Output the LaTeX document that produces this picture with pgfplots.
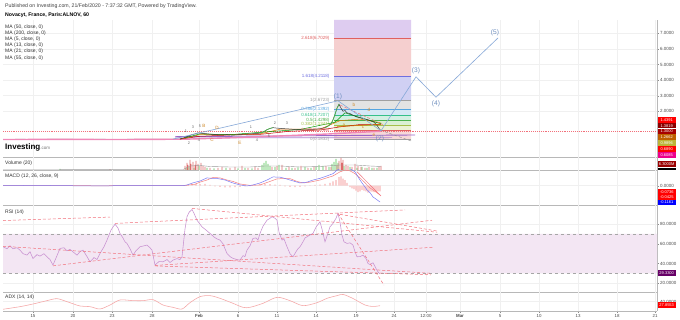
\documentclass[border=0pt]{standalone}
\usepackage{fontspec}
\setmainfont{Liberation Sans}
\usepackage{pgfplots}
\pgfplotsset{compat=1.18}
\definecolor{fibtop}{HTML}{DECCF0}
\definecolor{fibpink}{HTML}{F5CFCF}
\definecolor{fibblue}{HTML}{D0D0F3}
\definecolor{fibgray}{HTML}{E3E3E3}
\definecolor{fiblb}{HTML}{D5E8F5}
\definecolor{fibmint}{HTML}{D3F0E3}
\definecolor{fibgreen}{HTML}{DAF0D3}
\definecolor{fibyel}{HTML}{EBF2D3}
\definecolor{fibred}{HTML}{F7D8D8}
\definecolor{lA}{HTML}{E06060}
\definecolor{lB}{HTML}{6F6FE0}
\definecolor{lC}{HTML}{A0A0A0}
\definecolor{lD}{HTML}{55A5E0}
\definecolor{lE}{HTML}{35C08A}
\definecolor{lF}{HTML}{4CB04C}
\definecolor{lG}{HTML}{A5C04A}
\definecolor{ew}{HTML}{86A8D8}
\definecolor{ewtext}{HTML}{6F8FBF}
\definecolor{wlab}{HTML}{D08A2A}
\definecolor{rsicol}{HTML}{C890D0}
\definecolor{rsiband}{HTML}{F3E6F3}
\definecolor{trend}{HTML}{F2707A}
\definecolor{adxcol}{HTML}{F5A5A5}
\definecolor{macdb}{HTML}{7A7AF5}
\definecolor{macdr}{HTML}{F58080}
\definecolor{hist}{HTML}{F8B8B8}
\definecolor{vgreen}{HTML}{4CC24C}
\definecolor{vred}{HTML}{E06A6A}
\definecolor{pricecol}{HTML}{3A3A3A}
\definecolor{purp}{HTML}{9A66C8}
\definecolor{pinkma}{HTML}{F088B8}
\pgfplotsset{
  panel/.style={
    scale only axis, width=654pt, xmin=3, xmax=657,
    axis x line*=bottom, axis y line*=right,
    axis line style={draw=black!28, line width=0.9pt},
    xtick={33,73,112,152,199,238,277,316,356,394,426,460,500,539,578,617,655},
    xticklabels={}, xtick style={draw=none},
    grid=major, major grid style={draw=black!6, line width=0.4pt},
    ytick style={draw=black!45, line width=0.3pt},
    major tick length=2pt, tick align=outside,
    yticklabel style={font=\fontsize{4.5}{5}\selectfont, text=black!70, inner sep=1pt,
      /pgf/number format/fixed, /pgf/number format/fixed zerofill,
      /pgf/number format/precision=4, /pgf/number format/assume math mode=true},
    clip mode=individual,
  },
}
\newcommand{\pbox}[3]{\node[anchor=west, fill=#1, text=white, inner sep=0pt, minimum width=18pt, minimum height=5.6pt, font=\fontsize{4}{4}\selectfont] at (657.5pt,#2pt) {#3};}
\begin{document}
\begin{tikzpicture}
\useasboundingbox[fill=white] (0pt,0pt) rectangle (680pt,320pt);
% ---------------- main price panel ----------------
\begin{axis}[panel, at={(3pt,163pt)}, anchor=south west, height=137pt,
  ymin=-0.93, ymax=7.85, ytick={2,3,4,5,6,7}]
\addplot[draw=none, fill=fibtop] coordinates {(334,6.7029)(411,6.7029)(411,7.85)(334,7.85)(334,6.7029)};
\addplot[draw=none, fill=fibpink] coordinates {(334,4.2118)(411,4.2118)(411,6.7029)(334,6.7029)(334,4.2118)};
\addplot[draw=none, fill=fibblue] coordinates {(334,2.6723)(411,2.6723)(411,4.2118)(334,4.2118)(334,2.6723)};
\addplot[draw=none, fill=fibgray] coordinates {(334,2.1392)(411,2.1392)(411,2.6723)(334,2.6723)(334,2.1392)};
\addplot[draw=none, fill=fiblb] coordinates {(334,1.7207)(411,1.7207)(411,2.1392)(334,2.1392)(334,1.7207)};
\addplot[draw=none, fill=fibmint] coordinates {(334,1.4298)(411,1.4298)(411,1.7207)(334,1.7207)(334,1.4298)};
\addplot[draw=none, fill=fibgreen] coordinates {(334,1.1341)(411,1.1341)(411,1.4298)(334,1.4298)(334,1.1341)};
\addplot[draw=none, fill=fibyel] coordinates {(334,0.7706)(411,0.7706)(411,1.1341)(334,1.1341)(334,0.7706)};
\addplot[draw=none, fill=fibred] coordinates {(334,0.1832)(411,0.1832)(411,0.7706)(334,0.7706)(334,0.1832)};
\addplot[lA, line width=0.6pt] coordinates {(334,6.7029)(411,6.7029)};
\addplot[lB, line width=0.6pt] coordinates {(334,4.2118)(411,4.2118)};
\addplot[lC, line width=0.6pt] coordinates {(334,2.6723)(411,2.6723)};
\addplot[lD, line width=0.5pt] coordinates {(334,2.1392)(411,2.1392)};
\addplot[lE, line width=0.5pt] coordinates {(334,1.7207)(411,1.7207)};
\addplot[lF, line width=0.5pt] coordinates {(334,1.4298)(411,1.4298)};
\addplot[lG, line width=0.5pt] coordinates {(334,1.1341)(411,1.1341)};
\addplot[lA, line width=0.5pt] coordinates {(334,0.7706)(411,0.7706)};
\addplot[lC, line width=0.5pt] coordinates {(334,0.1832)(411,0.1832)};
\addplot[trend, densely dotted, line width=0.9pt] coordinates {(3,0.70)(657,0.70)};
\addplot[purp, line width=0.9pt] coordinates {(175,0.37)(415,0.48)};
\addplot[purp!80, line width=0.7pt] coordinates {(175,0.29)(392,0.31)};
\addplot[pricecol!50, line width=0.5pt] coordinates {(3,0.2)(20,0.21)(40,0.2)(60,0.22)(80,0.2)(100,0.21)(120,0.2)(140,0.22)(160,0.21)(180,0.22)};
\addplot[pinkma, line width=1.4pt] coordinates {(3,0.19)(60,0.2)(120,0.19)(185,0.21)(230,0.3)(280,0.42)(330,0.55)(381,0.72)};
\addplot[red!75!black, line width=0.5pt] coordinates {(180,0.22)(200,0.4)(230,0.48)(260,0.52)(290,0.72)(320,0.8)(340,1.0)(360,1.15)(381,1.15)};
\addplot[orange!90!black, line width=0.5pt] coordinates {(180,0.22)(200,0.5)(230,0.5)(260,0.55)(280,0.85)(320,0.85)(340,1.4)(360,1.5)(381,1.25)};
\addplot[green!60!black, line width=0.5pt] coordinates {(185,0.3)(200,0.55)(230,0.5)(270,0.7)(300,0.83)(335,1.3)(345,1.9)(360,1.6)(381,1.2)};
\addplot[pricecol, line width=0.5pt] coordinates {(180,0.22)(184,0.3)(187,0.38)(190,0.45)(192,0.5)(195,0.55)(198,0.62)(200,0.6)(204,0.58)(208,0.55)(212,0.52)(217,0.5)(222,0.48)(227,0.5)(233,0.47)(238,0.5)(243,0.53)(250,0.55)(255,0.57)(260,0.6)(264,0.7)(267,0.82)(270,0.9)(273,0.95)(277,0.92)(281,0.9)(285,0.88)(290,0.86)(295,0.83)(300,0.82)(305,0.8)(310,0.83)(315,0.85)(320,0.88)(325,0.95)(328,1.05)(331,1.2)(333,1.45)(335,1.8)(337,2.2)(339,2.45)(341,2.2)(343,2.0)(345,2.05)(347,1.9)(350,1.85)(353,1.75)(356,1.65)(359,1.6)(362,1.55)(365,1.5)(368,1.45)(371,1.38)(374,1.3)(377,1.1)(379,0.9)(381,0.75)};
\addplot[vgreen, line width=0.6pt] coordinates {(260,0.6)(264,0.7)(267,0.82)(270,0.9)(273,0.95)};
\addplot[vgreen, line width=0.6pt] coordinates {(325,0.95)(328,1.05)(331,1.2)(333,1.45)(335,1.8)(337,2.2)(339,2.45)};
\addplot[trend, densely dashed, line width=0.5pt] coordinates {(340,2.4)(383,1.15)};
\addplot[orange!85!black, line width=0.5pt] coordinates {(337,1.01)(381,1.17)};
\addplot[black!45, densely dashed, line width=0.4pt] coordinates {(380,0.8)(411,0.1)};
\addplot[ew, line width=0.6pt] coordinates {(173,0.22)(338,2.67)(381,0.75)(416,4.21)(436,2.9)(498,6.7)};
\begin{scope}[font=\fontsize{4.5}{5}\selectfont]
\node[anchor=east, text=lA] at (axis cs:333,6.7029) {2.618(6.7029)};
\node[anchor=east, text=lB] at (axis cs:333,4.2118) {1.618(4.2118)};
\node[anchor=east, text=lC] at (axis cs:333,2.6723) {1(2.6723)};
\node[anchor=east, text=lD] at (axis cs:333,2.1392) {0.786(2.1392)};
\node[anchor=east, text=lE] at (axis cs:333,1.7207) {0.618(1.7207)};
\node[anchor=east, text=lF] at (axis cs:333,1.4298) {0.5(1.4298)};
\node[anchor=east, text=lG] at (axis cs:333,1.1341) {0.382(1.1341)};
\node[anchor=east, text=lA] at (axis cs:333,0.7706) {0.236(0.7706)};
\node[anchor=east, text=lC] at (axis cs:333,0.1832) {0(0.1832)};
\end{scope}
\begin{scope}[font=\fontsize{6.6}{7}\selectfont, text=ewtext]
\node at (axis cs:338,2.9) {(1)};
\node at (axis cs:380,0.25) {(2)};
\node at (axis cs:416,4.6) {(3)};
\node at (axis cs:436,2.45) {(4)};
\node at (axis cs:495,7.02) {(5)};
\end{scope}
\begin{scope}[font=\fontsize{3.8}{4}\selectfont, text=black!60]
\node at (axis cs:186,0.74) {1};
\node at (axis cs:193,0.99) {3};
\node at (axis cs:200,1.06) {5};
\node at (axis cs:189,-0.03) {2};
\node at (axis cs:199,0.16) {4};
\node at (axis cs:251,0.99) {1};
\node at (axis cs:275,1.25) {2};
\node at (axis cs:287,1.25) {3};
\node at (axis cs:257,0.16) {4};
\node at (axis cs:269,0.42) {5};
\end{scope}
\begin{scope}[font=\fontsize{4.6}{5}\selectfont, text=wlab]
\node at (axis cs:204,1.06) {B};
\node at (axis cs:217,0.93) {D};
\node at (axis cs:212,0.16) {C};
\node at (axis cs:240,-0.03) {E};
\node at (axis cs:354,2.4) {b};
\node at (axis cs:369,2.08) {d};
\node at (axis cs:344,1.12) {a};
\node at (axis cs:363,0.99) {c};
\node at (axis cs:374,0.48) {e};
\end{scope}
\end{axis}
% ---------------- volume ----------------
\begin{axis}[panel, at={(3pt,150pt)}, anchor=south west, height=13pt,
  ymin=0, ymax=13, ytick=\empty]
\addplot[ybar, bar width=0.9pt, fill=vgreen, draw=none] coordinates {(60,1)(186,2)(189,3)(194,2)(199,4)(207,2)(214,1.5)(226,2)(238,1.5)(245,2)(252,1.5)(262,5)(264,7)(266,9)(268,6)(270,4)(275,3)(279,5)(286,2)(292,2)(298,2.5)(305,3)(311,2)(316,3)(319,5)(323,4)(329,3)(332,6)(334,8)(336,11)(338,7)(344,4)(350,3)(357,2)(362,3)(367,2)(372,2)(377,2)};
\addplot[ybar, bar width=0.9pt, fill=vred, draw=none] coordinates {(110,0.8)(185,4)(187,7)(188,5)(190,10)(191,6)(193,8)(195,5)(196,9)(198,6)(201,7)(203,4)(205,3)(210,2)(218,2)(222,3)(230,2)(235,3)(242,4)(248,2)(255,3)(258,2)(272,3)(277,4)(282,5)(289,3)(295,2)(301,4)(308,2)(314,3)(326,4)(331,3)(337,5)(339,9)(341,12)(342,7)(343,10)(346,5)(348,4)(352,3)(355,6)(358,4)(361,3)(365,2)(369,3)(374,2)(379,3)(381,4)};
\addplot[black!40, line width=0.4pt] coordinates {(3,0.2)(183,0.5)(190,4)(200,4.5)(210,3.5)(230,3)(250,3)(265,4)(280,4)(300,3)(320,3.5)(340,5)(355,5)(370,4)(381,3.5)};
\end{axis}
% ---------------- MACD ----------------
\begin{axis}[panel, at={(3pt,115pt)}, anchor=south west, height=35pt,
  ymin=-0.137, ymax=0.111, ytick={0}]
\addplot[ybar, bar width=1.3pt, fill=hist, draw=none] coordinates {(188,0.008)(192,0.012)(196,0.015)(200,0.01)(205,0.012)(210,0.005)(215,-0.005)(220,-0.008)(225,-0.012)(230,-0.012)(235,-0.01)(240,-0.008)(245,-0.005)(250,-0.003)(255,0.005)(260,0.01)(265,0.012)(270,0.01)(275,0.008)(280,0.005)(285,-0.005)(290,-0.008)(295,-0.01)(300,-0.008)(305,-0.005)(310,0.002)(315,0.005)(320,0.008)(325,0.012)(330,0.02)(333,0.03)(336,0.04)(339,0.06)(341,0.065)(343,0.05)(345,0.04)(347,0.02)(350,-0.01)(352,-0.02)(354,-0.025)(356,-0.035)(358,-0.045)(360,-0.04)(362,-0.03)(364,-0.035)(366,-0.04)(368,-0.05)(370,-0.04)(372,-0.042)(374,-0.045)(376,-0.045)(378,-0.04)(380,-0.04)};
\addplot[macdr, line width=0.5pt] coordinates {(3,0)(50,0.001)(100,-0.001)(150,0.001)(183,0)(187,0.003)(195,0.01)(200,0.025)(207,0.04)(213,0.058)(220,0.055)(227,0.04)(233,0.03)(240,0.012)(250,0.002)(260,0.005)(270,0.03)(277,0.048)(283,0.05)(290,0.05)(297,0.03)(303,0.019)(310,0.025)(320,0.04)(333,0.069)(340,0.098)(345,0.11)(350,0.105)(355,0.085)(360,0.055)(365,0.02)(370,-0.016)(375,-0.04)(380,-0.066)};
\addplot[macdb, line width=0.5pt] coordinates {(3,0)(40,0.002)(90,-0.002)(140,0.001)(183,0)(187,0.005)(193,0.02)(200,0.033)(207,0.055)(212,0.052)(217,0.051)(225,0.04)(233,0.019)(240,0.005)(247,-0.002)(253,0.005)(260,0.019)(267,0.04)(273,0.062)(280,0.06)(283,0.055)(290,0.04)(300,0.019)(307,0.025)(313,0.04)(320,0.052)(327,0.069)(333,0.085)(337,0.11)(343,0.13)(350,0.12)(355,0.098)(360,0.04)(364,0.0)(367,-0.03)(370,-0.05)(373,-0.08)(377,-0.1)(380,-0.116)};
\addplot[trend, line width=0.5pt] coordinates {(357,0.098)(381,-0.073)};
\end{axis}
% ---------------- RSI ----------------
\begin{axis}[panel, at={(3pt,28pt)}, anchor=south west, height=87pt,
  ymin=11, ymax=99.5, ytick={20,40,60,80}]
\addplot[draw=none, fill=rsiband] coordinates {(3,30)(657,30)(657,70)(3,70)(3,30)};
\addplot[black!35, dashed, line width=0.4pt] coordinates {(3,70)(657,70)};
\addplot[black!35, dashed, line width=0.4pt] coordinates {(3,30)(657,30)};
\addplot[rsicol, line width=0.55pt] coordinates {(3,57)(7,55)(10,58)(13,55)(17,56)(20,53.6)(23,50)(27,48.5)(30,52)(33,45)(37,49)(40,47.5)(44,50)(47,46.8)(50,44)(53,38.4)(57,48)(60,55.3)(64,56)(67,53)(70,54.3)(74,51)(77,48.5)(80,52)(83,53.6)(87,47)(90,41.7)(94,46)(97,44)(100,50.2)(104,57)(107,63.8)(111,74)(115,80)(118,76)(120,70.6)(123,66)(125,62)(127,60.4)(130,55)(133,48.5)(136,53)(140,57)(144,58)(147,58.7)(150,56)(152,53.6)(155,38.4)(159,42)(163,41.7)(167,44)(170,41)(173,43.4)(177,45)(180,44)(182,46.8)(185,75)(187,87.5)(189,92)(192,95)(194,91)(197,84)(200,80)(202,77.3)(206,74)(210,70.6)(214,67)(217,65)(220,63.8)(223,60)(225,55)(227,50.2)(230,47)(233,45.2)(237,44)(240,43.4)(243,48)(245,47)(247,53.6)(250,58)(253,65.5)(256,66)(258,64)(260,70.6)(263,78)(267,84)(270,86)(272,87.5)(275,86)(277,84)(279,72)(282,63.8)(284,65)(287,57)(290,50)(293,46.8)(296,52)(298,55)(300,57)(303,62)(305,66)(307,67.1)(310,69)(313,70.6)(316,77)(320,82.4)(322,75)(325,62)(327,68)(330,77.3)(333,80.8)(336,86)(338,91)(340,82)(342,68.9)(344,62)(347,60.4)(350,61)(353,58.7)(355,52)(357,46.8)(360,47)(363,48.5)(366,45)(368,40)(370,39)(373,40.7)(375,37)(377,33)(378,31.5)(380,29.3)};
\addplot[trend, densely dashed, line width=0.5pt] coordinates {(3,83.7)(110,87.2)};
\addplot[trend, densely dashed, line width=0.5pt] coordinates {(115,80.8)(405,94.5)};
\addplot[trend, densely dashed, line width=0.5pt] coordinates {(192,96)(437,71.8)};
\addplot[trend, densely dashed, line width=0.5pt] coordinates {(340,90)(437,73)};
\addplot[trend, densely dashed, line width=0.5pt] coordinates {(53,37.6)(432,84)};
\addplot[trend, densely dashed, line width=0.5pt] coordinates {(3,57.5)(431,30)};
\addplot[trend, densely dashed, line width=0.5pt] coordinates {(155,38)(433,56.5)};
\addplot[trend, densely dashed, line width=0.5pt] coordinates {(155,37.5)(431,28.5)};
\addplot[trend, densely dashed, line width=0.5pt] coordinates {(338,91)(384,18)};
\end{axis}
% ---------------- ADX ----------------
\begin{axis}[panel, at={(3pt,9pt)}, anchor=south west, height=19pt,
  ymin=12, ymax=69, ytick={40},
  xticklabels={15,20,23,28,\textbf{Feb},6,11,14,19,24,12:00,\textbf{Mar},5,10,13,18,21},
  xtick style={draw=black!45, line width=0.3pt},
  xticklabel style={font=\fontsize{4.4}{5}\selectfont, text=black!70, inner sep=1pt}]
\addplot[adxcol, line width=0.55pt, smooth] coordinates {(3,17.2)(20,25)(33,33)(47,43)(57,49)(67,40)(80,27)(90,25)(100,18)(110,30)(120,45)(133,43)(143,43)(153,46)(163,30)(173,23)(182,18)(190,37)(200,55)(210,58)(220,50)(233,35)(243,23)(250,23)(263,35)(277,53)(290,43)(303,28)(317,37)(327,50)(337,58)(343,61.6)(352,51)(365,30)(373,25.6)(380,27.9)};
\end{axis}
% ---------------- texts ----------------
\node[anchor=west, inner sep=0, font=\fontsize{5.2}{6}\selectfont, text=black!75] at (5pt,314pt) {Published on Investing.com, 21/Feb/2020 - 7:37:32 GMT, Powered by TradingView.};
\node[anchor=west, inner sep=0, font=\fontsize{5.2}{6}\selectfont\bfseries] at (5pt,305pt) {Novacyt, France, Paris:ALNOV, 60};
\begin{scope}[font=\fontsize{5}{5}\selectfont, text=black!80]
\node[anchor=west, inner sep=0] at (5pt,293pt) {MA (50, close, 0)};
\node[anchor=west, inner sep=0] at (5pt,287pt) {MA (200, close, 0)};
\node[anchor=west, inner sep=0] at (5pt,280.5pt) {MA (5, close, 0)};
\node[anchor=west, inner sep=0] at (5pt,274.3pt) {MA (13, close, 0)};
\node[anchor=west, inner sep=0] at (5pt,268.3pt) {MA (21, close, 0)};
\node[anchor=west, inner sep=0] at (5pt,262pt) {MA (55, close, 0)};
\node[anchor=west, inner sep=0] at (5pt,156.5pt) {Volume (20)};
\node[anchor=west, inner sep=0] at (5pt,144pt) {MACD (12, 26, close, 9)};
\node[anchor=west, inner sep=0] at (5pt,108pt) {RSI (14)};
\node[anchor=west, inner sep=0] at (5pt,22.5pt) {ADX (14, 14)};
\end{scope}
\node[anchor=west, inner sep=0] at (5pt,173pt) {\fontsize{8}{9}\selectfont\bfseries Investing{\fontsize{4.5}{5}\selectfont\mdseries\color{black!55}.com}};
\pbox{red}{200}{1.4391}
\pbox{red!55!black}{194.3}{1.3819}
\pbox{red!65!black}{188.5}{1.3000}
\pbox{orange!75!black}{182.7}{1.2662}
\pbox{yellow!70!black}{176.8}{0.9896}
\pbox{red}{170.9}{0.6890}
\pbox{magenta}{165}{0.6085}
\pbox{red!60!black}{156}{6.3000M}
\node[anchor=west, fill=black, inner sep=0pt, minimum width=18pt, minimum height=2.5pt] at (657.5pt,151pt) {};
\pbox{red}{128}{-0.0736}
\pbox{red}{122.7}{-0.0425}
\pbox{blue}{117.5}{-0.1161}
\pbox{violet!80!black}{47}{29.3300}
\pbox{red}{15}{27.8553}
\end{tikzpicture}
\end{document}
